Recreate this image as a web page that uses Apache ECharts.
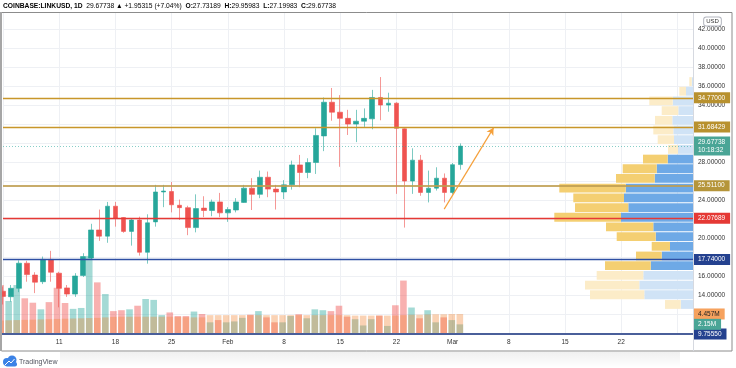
<!DOCTYPE html>
<html><head><meta charset="utf-8">
<script src="https://cdn.jsdelivr.net/npm/echarts@6/dist/echarts.min.js"></script>
<style>html,body{margin:0;padding:0;background:#fff}#c{width:736px;height:368px}</style>
</head><body><div id="c"></div>
<script>
// ---- data (daily candles, LINK/USD) ----
const dates = ['Jan 4','Jan 5','Jan 6','Jan 7','Jan 8','Jan 9','Jan 10','Jan 11','Jan 12','Jan 13','Jan 14','Jan 15','Jan 16','Jan 17','Jan 18','Jan 19','Jan 20','Jan 21','Jan 22','Jan 23','Jan 24','Jan 25','Jan 26','Jan 27','Jan 28','Jan 29','Jan 30','Jan 31','Feb 1','Feb 2','Feb 3','Feb 4','Feb 5','Feb 6','Feb 7','Feb 8','Feb 9','Feb 10','Feb 11','Feb 12','Feb 13','Feb 14','Feb 15','Feb 16','Feb 17','Feb 18','Feb 19','Feb 20','Feb 21','Feb 22','Feb 23','Feb 24','Feb 25','Feb 26','Feb 27','Feb 28','Mar 1','Mar 2'];
const opens  = [14.40,13.82,14.71,17.35,16.10,15.40,17.75,16.30,14.75,14.10,16.05,17.90,20.85,20.20,23.35,22.15,20.70,21.90,18.50,21.70,24.85,24.90,23.45,23.20,21.10,23.15,22.90,23.80,22.65,22.95,23.75,25.25,24.60,26.40,25.15,24.85,25.60,27.70,26.90,27.95,30.75,34.30,33.25,32.60,32.00,32.30,32.55,34.80,34.00,34.20,31.50,26.00,28.20,24.80,25.25,26.30,24.80,27.73189];
const closes = [13.85,14.71,17.35,16.15,15.35,17.75,16.40,14.70,14.10,16.00,18.05,20.85,20.20,23.35,22.10,20.70,21.90,18.50,21.60,24.85,24.95,23.50,23.20,21.10,23.10,22.90,23.80,22.65,23.00,23.80,25.25,24.60,26.40,25.15,24.85,25.60,27.70,26.90,27.95,30.80,34.30,33.25,32.60,32.00,32.30,32.60,34.80,34.00,34.20,31.55,26.00,28.20,24.80,25.25,26.30,24.80,27.72423,29.67738];
const lows   = [13.00,13.30,14.30,15.40,14.20,15.15,15.40,12.70,13.80,13.80,15.90,17.70,19.70,19.50,21.20,20.55,19.20,18.15,17.30,21.20,23.25,22.70,21.90,20.30,20.60,22.20,22.30,22.20,21.70,22.70,23.70,22.95,24.20,24.30,23.00,24.10,25.10,25.35,26.30,26.75,29.15,32.35,27.50,30.85,30.10,31.70,31.45,32.40,33.30,24.65,21.10,24.65,24.45,23.75,25.00,23.75,24.60,27.19983];
const highs  = [14.90,15.05,17.65,17.60,16.40,18.05,18.65,16.45,15.05,16.30,18.40,21.50,23.00,23.80,23.80,22.20,22.10,22.25,22.50,25.60,25.60,25.90,24.05,23.40,24.60,24.40,24.05,24.75,23.25,24.20,25.60,26.30,27.10,27.00,25.60,26.10,28.15,28.75,28.40,31.55,34.80,35.80,35.05,33.50,33.50,33.65,35.60,36.95,35.30,34.30,31.55,29.45,28.75,27.10,27.45,26.80,27.90,29.95983];
const volumes  = [10.9,7.35,10.9,7.95,6.97,5.5,7.1,10.3,6.9,5.6,5.8,17.4,11.5,8.9,5.1,5.3,5.5,6.3,7.8,7.6,4.2,4.8,4.0,4.0,5.0,4.45,2.6,3.1,2.6,2.8,3.6,4.3,5.1,3.7,2.6,2.6,4.0,4.4,3.5,5.5,5.3,5.1,6.3,3.85,3.3,1.9,3.3,4.1,1.8,6.4,11.9,5.9,3.5,5.3,2.6,3.7,3.1,2.15];
const volumeMA = [3.00,3.05,3.10,3.15,3.20,3.25,3.30,3.35,3.40,3.45,3.50,3.55,3.60,3.70,3.80,3.85,3.85,3.85,3.85,3.85,3.85,3.85,3.80,3.75,3.70,3.70,4.20,4.20,4.20,4.20,4.20,4.20,4.20,4.20,4.20,4.20,4.20,4.20,4.20,4.20,4.20,4.20,4.20,4.20,4.10,4.10,4.10,4.10,4.10,4.10,4.20,4.30,4.30,4.35,4.40,4.40,4.45,4.457];
// x ticks: day index (Jan 4 = 0)
const tickDays   = [7,14,21,28,35,42,49,56,63,70,77];
const tickLabels = ['11','18','25','Feb','8','15','22','Mar','8','15','22'];
const priceTicks = [14,16,20,24,28,34,36,38,40,42];
// horizontal levels
const levelValues = [34.77, 31.68429, 25.511, 22.07689, 17.74];
const bottomLevel = 9.7555;
const lastPrice = 29.67738;
const lastTime = '10:18:32';
const lastVolume = 2.15;
const lastVolumeMA = 4.457;
// trend arrow (day index, price)
const arrowFrom = [54.95, 23.05];
const arrowTo   = [61.1, 31.6];
// volume profile rows, top (36.98) to bottom, 24 rows
const vpUp   = [1.3,7.0,20.3,14.7,20.7,19.7,19.0,15.0,25.3,36.3,38.3,67.3,69.0,64.7,72.0,39.7,37.3,23.0,31.3,42.3,49.7,53.7,48.7,12.3];
const vpDown = [2.4,6.7,23.4,16.6,17.3,20.0,16.3,10.0,24.7,34.0,38.7,66.4,50.7,53.3,66.7,47.3,39.0,18.3,25.7,45.7,46.6,54.3,54.3,15.7];
const vpValueAreaFirst = 8, vpValueAreaLast = 19;

// ---- chart ----
const FONT = '"Liberation Sans", Arial, sans-serif';
const X_MAX = 85.94;
const chart = echarts.init(document.getElementById('c'));

const candleData = dates.map((d, i) => [i, opens[i], closes[i], lows[i], highs[i]]);
const volData = volumes.map((v, i) => ({
  value: [i, v],
  itemStyle: { color: closes[i] >= opens[i] ? 'rgba(38,166,154,0.42)' : 'rgba(239,83,80,0.45)' }
}));
const maData = volumeMA.map((v, i) => [i, v]);
const inVA = i => i >= vpValueAreaFirst && i <= vpValueAreaLast;
const vpUpData = vpUp.map((v, i) => ({ value: v, itemStyle: { color: inVA(i) ? '#6ea9e6' : '#d0e3f6' } }));
const vpDownData = vpDown.map((v, i) => ({ value: v, itemStyle: { color: inVA(i) ? '#f4cf72' : '#fcecc8' } }));

const levelStyles = [
  { line: '#c8962a', w: 1.3, bg: '#b8912f' },
  { line: '#c8962a', w: 1.3, bg: '#b8912f' },
  { line: 'rgba(190,158,80,0.85)', w: 2, bg: '#b5953a' },
  { line: '#e53935', w: 1.3, bg: '#e53935' },
  { line: '#2e4fa3', w: 1.4, bg: '#24418f' }
];
const lblBase = { show: true, position: 'end', distance: 0, fontSize: 6.5, fontFamily: FONT, color: '#fff', padding: [2, 5, 2, 5] };

const priceMarks = levelValues.map((v, i) => ({
  yAxis: v,
  lineStyle: { color: levelStyles[i].line, width: levelStyles[i].w, type: 'solid' },
  label: Object.assign({}, lblBase, { formatter: v.toFixed(5), backgroundColor: levelStyles[i].bg })
}));
priceMarks.push({
  yAxis: lastPrice,
  lineStyle: { color: 'rgba(38,166,154,0.55)', width: 1, type: [1, 2] },
  label: Object.assign({}, lblBase, { formatter: lastPrice.toFixed(5) + '\n' + lastTime, backgroundColor: '#4aa596', lineHeight: 7.5 })
});
priceMarks.push([
  { coord: arrowFrom, symbol: 'none', lineStyle: { color: '#f5a03a', width: 1.2, type: 'solid' }, label: { show: false } },
  { coord: arrowTo, symbol: 'arrow', symbolSize: [6, 7], lineStyle: { color: '#f5a03a', width: 1.2, type: 'solid' }, label: { show: false } }
]);

const option = {
  animation: false,
  backgroundColor: '#fff',
  textStyle: { fontFamily: FONT },
  grid: [
    { left: 0.6, right: 43, top: 12, bottom: 35 },
    { left: 0.6, right: 43, top: 250, bottom: 34 },
    { left: 540, right: 43, top: 76.7, bottom: 58.7 }
  ],
  xAxis: [
    { type: 'value', gridIndex: 0, min: 0, max: X_MAX, interval: 7,
      axisLine: { show: false }, axisTick: { show: false },
      splitLine: { show: true, lineStyle: { color: '#eef0f4', width: 1 } },
      axisLabel: { margin: 6, fontSize: 6.5, color: '#333', fontFamily: FONT,
        formatter: v => { const k = tickDays.indexOf(Math.round(v)); return (k >= 0 && Math.abs(v - tickDays[k]) < 1e-6) ? tickLabels[k] : ''; } } },
    { type: 'value', gridIndex: 1, min: 0, max: X_MAX, show: false },
    { type: 'value', gridIndex: 2, min: 0, max: 153, inverse: true, show: false }
  ],
  yAxis: [
    { type: 'value', gridIndex: 0, position: 'right', min: 10, max: 43.8, interval: 2,
      axisLine: { show: false }, axisTick: { show: false },
      splitLine: { show: true, lineStyle: { color: '#eef0f4', width: 1 } },
      axisLabel: { margin: 5, fontSize: 6.5, color: '#333', fontFamily: FONT,
        formatter: v => priceTicks.some(p => Math.abs(p - v) < 1e-6) ? v.toFixed(5) : '' } },
    { type: 'value', gridIndex: 1, min: 0, max: 18.71, show: false },
    { type: 'category', gridIndex: 2, inverse: true, show: false, data: vpUp.map((v, i) => 'r' + i) }
  ],
  series: [
    { type: 'bar', name: 'vpUp', xAxisIndex: 2, yAxisIndex: 2, stack: 'vp', barCategoryGap: '9%', data: vpUpData, silent: true },
    { type: 'bar', name: 'vpDown', xAxisIndex: 2, yAxisIndex: 2, stack: 'vp', barCategoryGap: '9%', data: vpDownData, silent: true },
    { type: 'bar', name: 'Volume', xAxisIndex: 1, yAxisIndex: 1, barWidth: 6.6, barGap: '-100%', data: volData, silent: true },
    { type: 'bar', name: 'Volume MA', xAxisIndex: 1, yAxisIndex: 1, barWidth: 6.6, barGap: '-100%', data: maData, silent: true,
      itemStyle: { color: 'rgba(242,138,58,0.38)' },
      markLine: { symbol: 'none', silent: true, animation: false,
        data: [
          { yAxis: 0, lineStyle: { color: '#4a5f9a', width: 2, type: 'solid' },
            label: Object.assign({}, lblBase, { formatter: bottomLevel.toFixed(5), backgroundColor: '#24418f' }) },
          { yAxis: lastVolumeMA, lineStyle: { color: 'rgba(0,0,0,0)', width: 0 },
            label: Object.assign({}, lblBase, { formatter: '4.457M', backgroundColor: '#f6a25e', color: '#222' }) },
          { yAxis: lastVolume, lineStyle: { color: 'rgba(0,0,0,0)', width: 0 },
            label: Object.assign({}, lblBase, { formatter: '2.15M', backgroundColor: '#4aa596', color: '#fff' }) }
        ] } },
    { type: 'candlestick', name: 'LINKUSD', xAxisIndex: 0, yAxisIndex: 0, barWidth: 5.2,
      encode: { x: 0, y: [1, 2, 3, 4] }, data: candleData, silent: true,
      itemStyle: { color: '#26a69a', color0: '#ef5350', borderColor: 'rgba(38,166,154,0.6)', borderColor0: 'rgba(239,83,80,0.6)', borderWidth: 1 },
      markLine: { symbol: 'none', silent: true, animation: false, data: priceMarks } }
  ],
  graphic: [
    { type: 'rect', z: 100, silent: true, shape: { x: 1.5, y: 12.5, width: 730.5, height: 338.5 }, style: { fill: 'none', stroke: '#8c8c8c', lineWidth: 1 } },
    { type: 'rect', z: 100, silent: true, shape: { x: 0, y: 12, width: 2, height: 339 }, style: { fill: '#a6a6a6' } },
    { type: 'line', z: 100, silent: true, shape: { x1: 693.5, y1: 13, x2: 693.5, y2: 351 }, style: { stroke: '#d6d9e0', lineWidth: 1 } },
    { type: 'rect', z: 0, silent: true, shape: { x: 60, y: 352, width: 620, height: 16 },
      style: { fill: new echarts.graphic.LinearGradient(0, 0, 0, 1, [{ offset: 0, color: 'rgba(0,0,0,0.06)' }, { offset: 1, color: 'rgba(0,0,0,0)' }]) } },
    { type: 'text', z: 100, silent: true, x: 3, y: 6,
      style: { text: '{b|COINBASE:LINKUSD, 1D}  {n|29.67738} {g|▲} {n|+1.95315 (+7.04%)}  {b|O:}{g|27.73189}  {b|H:}{g|29.95983}  {b|L:}{g|27.19983}  {b|C:}{g|29.67738}',
        verticalAlign: 'middle', fontSize: 6.7, fontFamily: FONT,
        rich: { b: { fontWeight: 'bold', fontSize: 6.7, color: '#222', fontFamily: FONT },
                n: { fontSize: 6.7, color: '#222', fontFamily: FONT },
                g: { fontSize: 6.7, color: '#26a69a', fontFamily: FONT } } } },
    { type: 'text', z: 100, silent: true, x: 712.5, y: 21.5,
      style: { text: 'USD', align: 'center', verticalAlign: 'middle', fontSize: 6, fontFamily: FONT, fill: '#333',
        borderColor: '#b2b5be', borderWidth: 1, borderRadius: 2, padding: [1, 2, 1, 2], backgroundColor: '#fff' } },
    { type: 'circle', z: 100, silent: true, shape: { cx: 7, cy: 362, r: 4 }, style: { fill: '#3b82e6' } },
    { type: 'circle', z: 100, silent: true, shape: { cx: 12, cy: 360, r: 4.5 }, style: { fill: '#3b82e6' } },
    { type: 'rect', z: 100, silent: true, shape: { x: 5, y: 362, width: 12, height: 4.5, r: 2 }, style: { fill: '#3b82e6' } },
    { type: 'polyline', z: 101, silent: true, shape: { points: [[5, 365], [9, 361], [11, 363], [14.5, 359]] }, style: { stroke: '#fff', lineWidth: 1, fill: 'none' } },
    { type: 'text', z: 100, silent: true, x: 19, y: 362,
      style: { text: 'TradingView', verticalAlign: 'middle', fontSize: 7, fontFamily: FONT, fill: '#50535e' } }
  ]
};
chart.setOption(option);
</script>
</body></html>
